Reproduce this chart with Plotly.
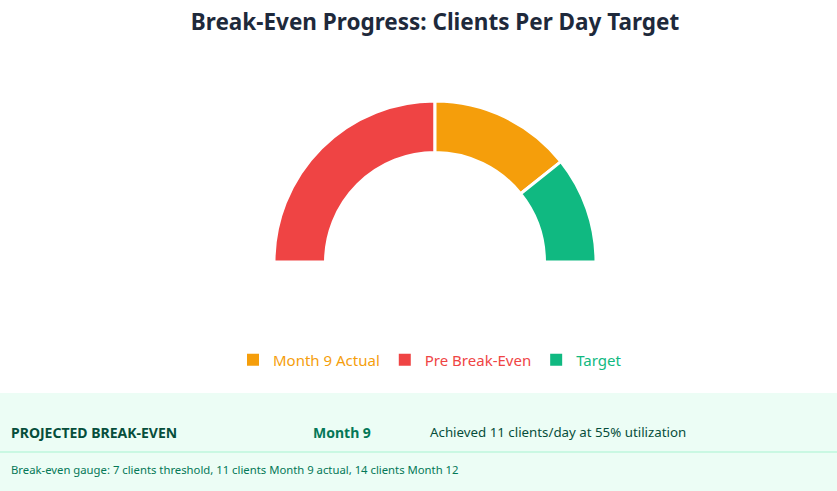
import plotly.graph_objects as go

# Data
segment_labels = ["Pre Break-Even", "Month 9 Actual", "Target"]
segment_values = [7, 4, 3]          # 0-7 threshold, 7-11 actual, 11-14 target
segment_colors = ["#ef4444", "#f59e0b", "#10b981"]
legend_order = ["Month 9 Actual", "Pre Break-Even", "Target"]
gauge_total = sum(segment_values)

W, H = 837, 491
cx, cy, R = 435, 262, 161

fig = go.Figure()

fig.add_trace(go.Pie(
    labels=segment_labels + ["_hidden"],
    values=segment_values + [gauge_total],
    sort=False,
    direction="clockwise",
    rotation=270,
    hole=0.68,
    marker=dict(colors=segment_colors + ["rgba(0,0,0,0)"],
                line=dict(color=["white", "white", "white", "rgba(0,0,0,0)"], width=3)),
    textinfo="none",
    hoverinfo="skip",
    showlegend=False,
    domain=dict(x=[(cx - R) / W, (cx + R) / W], y=[1 - (cy + R) / H, 1 - (cy - R) / H]),
))

color_map = dict(zip(segment_labels, segment_colors))
for name in legend_order:
    c = color_map[name]
    fig.add_trace(go.Scatter(
        x=[None], y=[None], mode="markers",
        marker=dict(symbol="square", size=13, color=c),
        name=f"<span style='color:{c}'>{name}</span>",
    ))

fig.update_xaxes(visible=False)
fig.update_yaxes(visible=False)

fig.add_shape(type="rect", xref="paper", yref="paper", x0=0, x1=1,
              y0=0, y1=1 - 393 / H, fillcolor="#ecfdf5", line_width=0, layer="below")
fig.add_shape(type="line", xref="paper", yref="paper", x0=0, x1=1,
              y0=1 - 452 / H, y1=1 - 452 / H, line=dict(color="#a7f3d0", width=1))

font_fam = "Noto Sans, Open Sans, sans-serif"
def ann(x, y, text, size, color, bold=False):
    fig.add_annotation(xref="paper", yref="paper", x=x / W, y=1 - y / H,
                       xanchor="left", yanchor="middle", showarrow=False,
                       text=f"<b>{text}</b>" if bold else text,
                       font=dict(size=size, color=color, family=font_fam))

ann(9, 432, "PROJECTED BREAK-EVEN", 14, "#064e3b", True)
ann(311, 432, "Month 9", 14, "#047857", True)
ann(428, 432, "Achieved 11 clients/day at 55% utilization", 13.3, "#064e3b")
ann(9, 469, "Break-even gauge: 7 clients threshold, 11 clients Month 9 actual, 14 clients Month 12", 11.3, "#047857")

fig.update_layout(
    width=W, height=H,
    margin=dict(l=0, r=0, t=0, b=0),
    paper_bgcolor="white", plot_bgcolor="white",
    font=dict(family=font_fam),
    title=dict(text="<b>Break-Even Progress: Clients Per Day Target</b>",
               x=435 / W, xanchor="center", y=1 - 22 / H, yanchor="middle",
               font=dict(size=22.5, color="#1e293b", family=font_fam)),
    legend=dict(orientation="h", x=430 / W, xanchor="center", y=1 - 360 / H, yanchor="middle",
                font=dict(size=15, family=font_fam), itemsizing="constant",
                bgcolor="rgba(0,0,0,0)", itemwidth=30, tracegroupgap=0),
)

fig.write_html("out.html")
